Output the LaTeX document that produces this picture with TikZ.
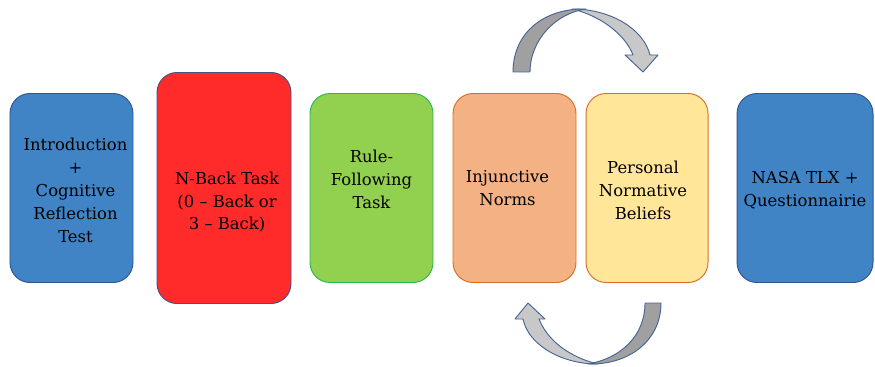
\documentclass[tikz,border=0pt]{standalone}
\usepackage{fontspec}
\setmainfont{DejaVu Serif}
\usetikzlibrary{positioning}

\definecolor{boxblue}{RGB}{64,132,197}
\definecolor{blueline}{RGB}{47,85,145}
\definecolor{boxred}{RGB}{255,42,42}
\definecolor{redline}{RGB}{70,80,130}
\definecolor{boxgreen}{RGB}{146,208,80}
\definecolor{greenline}{RGB}{40,185,80}
\definecolor{boxorange}{RGB}{244,177,131}
\definecolor{boxyellow}{RGB}{255,230,153}
\definecolor{orangeline}{RGB}{215,110,40}
\definecolor{arrowdark}{RGB}{160,160,160}
\definecolor{arrowlight}{RGB}{200,200,200}
\definecolor{arrowline}{RGB}{70,100,150}

\tikzset{
  stage/.style={draw, rounded corners=0.6cm, line width=0.8pt,
    minimum width=3.69cm, minimum height=5.67cm},
  every label/.style={align=center, font=\fontsize{14}{19.6}\selectfont},
  loop/.style={draw=arrowline, line width=0.8pt, line join=round}
}

\begin{document}
\begin{tikzpicture}[x=0.03cm, y=-0.03cm]
    \useasboundingbox (0,0) rectangle (875,366);

    \node(intro) [stage, fill=boxblue, draw=blueline,
      label={[xshift=3.4pt, yshift=-1.7pt]center:{Introduction\\+\\Cognitive\\Reflection\\Test}}] at (71.5,188) {};
    \node(nback) [stage, right of=intro, node distance=4.575cm, minimum width=4.02cm, minimum height=6.93cm,
      fill=boxred, draw=redline,
      label={[xshift=2.6pt, yshift=-12pt]center:{N-Back Task\\(0 -- Back or\\3 -- Back)}}] {};
    \node(rule) [stage, right of=nback, node distance=4.425cm, fill=boxgreen, draw=greenline,
      label={[yshift=7.7pt]center:{Rule-\\Following\\Task}}] {};
    \node(injunct) [stage, right of=rule, node distance=4.29cm, fill=boxorange, draw=orangeline,
      label={[xshift=-6pt]center:{Injunctive\\Norms}}] {};
    \node(personal) [stage, right of=injunct, node distance=3.975cm, minimum width=3.66cm,
      fill=boxyellow, draw=orangeline,
      label={[xshift=-3.4pt, yshift=-1.7pt]center:{Personal\\Normative\\Beliefs}}] {};
    \node(nasa) [stage, right of=personal, node distance=4.74cm, minimum width=4.08cm,
      fill=boxblue, draw=blueline,
      label={[yshift=-1.7pt]center:{NASA TLX +\\Questionnairie}}] {};

    % loop arrow over the norms
    \filldraw [loop, fill=arrowlight] (572,9) .. controls (612,9) and (644,30) .. (650,55)
      -- (658,55) -- (643,72) -- (625,55) -- (633,55) .. controls (626,36) and (602,16) .. cycle;
    \filldraw [loop, fill=arrowdark] (513,72) .. controls (513,32) and (545,8) .. (586,9)
      .. controls (556,13) and (530,40) .. (530,72) -- cycle;

    % loop arrow under the norms
    \filldraw [loop, fill=arrowlight] (598,364) .. controls (560,364) and (528,344) .. (523,319)
      -- (515,319) -- (528,303) -- (545,319) -- (539,319) .. controls (548,342) and (572,358) .. cycle;
    \filldraw [loop, fill=arrowdark] (661,303) .. controls (661,340) and (630,365) .. (588,364)
      .. controls (622,358) and (645,335) .. (645,303) -- cycle;

%    \draw [->] (injunct.north) to [bend left=60] (personal.north);
\end{tikzpicture}
\end{document}
